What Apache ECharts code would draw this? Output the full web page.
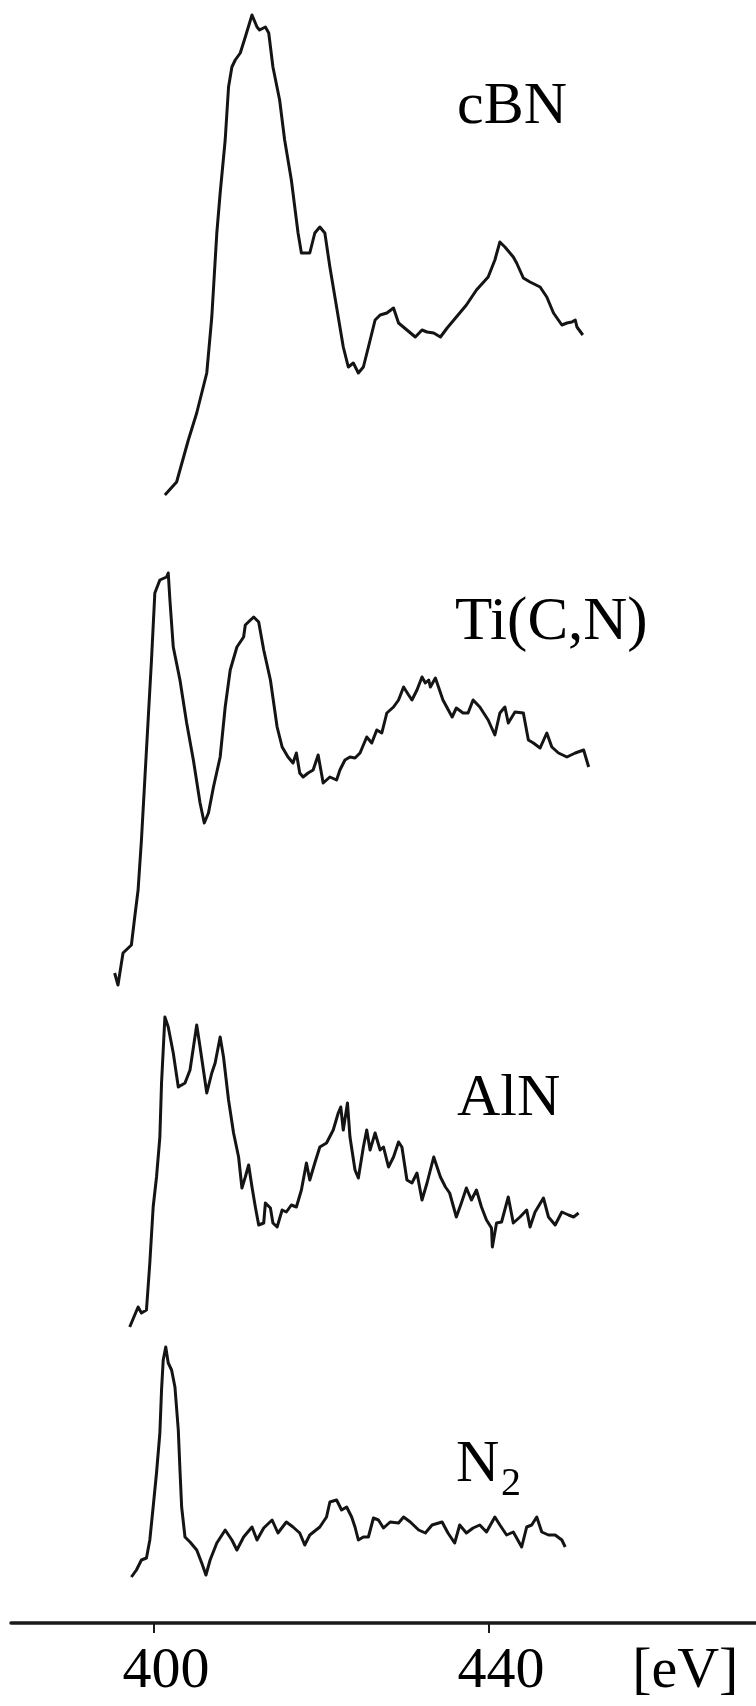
<!DOCTYPE html>
<html>
<head>
<meta charset="utf-8">
<script src="https://cdn.jsdelivr.net/npm/echarts@6/dist/echarts.min.js"></script>
<style>
html,body{margin:0;padding:0;background:#fff;}
#chart{width:756px;height:1706px;}
</style>
</head>
<body>
<div id="chart"></div>
<script>
// Energy-loss spectra, [energy eV, intensity a.u. (offset stack)]
const cBN = [
[401.3,112.8],[402.7,114.1],[404.1,118.3],[405.1,121.0],[406.3,125.0],[406.9,130.6],[407.5,139.0],
[407.9,143.0],[408.5,148.3],[408.9,153.6],[409.3,155.6],[409.7,156.3],[410.3,157.0],[410.9,158.6],
[411.7,160.8],[412.3,159.6],[412.6,159.3],[413.3,159.6],[413.7,159.0],[414.2,155.6],[415.0,152.3],
[415.6,148.3],[416.4,144.3],[417.2,139.0],[417.6,137.0],[418.6,137.0],[419.2,139.0],[419.8,139.6],
[420.4,139.0],[421.0,135.6],[421.8,131.6],[422.6,127.6],[423.2,125.6],[423.8,126.0],[424.4,125.0],
[425.0,125.6],[425.6,127.6],[426.4,130.3],[427.0,130.8],[427.8,131.0],[428.6,131.5],[429.2,130.0],
[430.2,129.3],[431.2,128.6],[432.0,129.3],[432.6,129.1],[433.4,129.0],[434.2,128.6],[435.0,129.5],
[436.1,130.6],[437.3,131.8],[438.5,133.3],[439.9,134.6],[440.7,136.3],[441.3,138.1],[441.9,137.6],
[442.9,136.6],[443.3,136.0],[444.1,134.5],[444.9,134.1],[446.1,133.6],[446.9,132.6],[447.7,131.0],
[448.7,129.8],[449.3,130.0],[449.9,130.1],[450.3,130.3],[450.5,129.6],[451.2,128.8]
];
const TiCN = [
[395.3,65.0],[395.7,63.8],[396.3,67.0],[397.3,67.8],[397.7,70.6],[398.1,73.3],[398.5,78.3],
[398.9,84.3],[399.3,90.3],[399.7,96.3],[400.1,103.0],[400.7,104.3],[401.5,104.6],[401.7,105.0],
[401.9,102.3],[402.3,97.6],[403.1,94.3],[403.9,90.0],[404.7,86.3],[405.5,82.0],[406.0,80.0],
[406.5,81.0],[407.1,83.6],[407.9,86.6],[408.5,91.6],[409.1,95.3],[409.9,97.6],[410.7,98.6],
[410.9,99.8],[411.9,100.6],[412.5,100.1],[413.1,97.3],[413.9,94.3],[414.7,89.6],[415.3,87.6],
[416.0,86.6],[416.6,86.0],[417.0,87.0],[417.4,85.0],[417.8,84.6],[418.4,85.0],[419.0,85.3],
[419.6,86.8],[420.2,84.0],[421.0,84.6],[421.8,84.3],[422.2,85.3],[422.8,86.3],[423.4,86.6],
[424.0,86.5],[424.6,87.0],[425.4,88.6],[426.0,88.0],[426.6,89.3],[427.2,89.0],[427.8,91.0],
[428.6,91.6],[429.2,92.3],[429.8,93.6],[430.4,92.8],[430.8,92.3],[431.4,93.3],[432.0,94.6],
[432.4,94.0],[432.8,94.3],[433.0,93.6],[433.6,94.5],[434.5,92.3],[435.6,90.6],[436.1,91.5],
[436.9,91.0],[437.5,91.0],[438.1,92.3],[438.9,91.6],[439.9,90.3],[440.7,88.8],[441.3,91.0],
[441.9,91.6],[442.3,90.0],[443.1,91.1],[444.1,91.0],[444.7,88.3],[445.3,88.0],[446.1,87.5],
[446.9,89.0],[447.5,87.6],[448.3,87.0],[449.3,86.6],[450.3,87.0],[451.3,87.3],[451.9,85.6]
];
const AlN = [
[397.1,29.6],[397.7,30.8],[398.1,31.6],[398.5,31.0],[399.1,31.3],[399.5,36.0],[399.9,41.6],
[400.3,44.6],[400.7,48.6],[400.9,54.0],[401.3,60.6],[401.7,59.6],[402.3,57.0],[402.9,53.6],
[403.7,54.0],[404.3,55.3],[405.1,59.8],[405.5,57.6],[406.3,53.0],[406.9,55.0],[407.3,56.0],
[407.9,58.6],[408.3,56.6],[408.9,52.3],[409.5,49.0],[410.1,46.6],[410.5,43.5],[410.9,44.6],
[411.3,45.8],[411.7,43.6],[412.1,41.6],[412.5,39.8],[413.1,40.0],[413.3,42.0],[413.9,41.5],
[414.2,40.0],[414.7,39.6],[415.3,41.3],[415.8,41.1],[416.4,41.8],[417.0,41.6],[417.6,43.3],
[418.2,46.0],[418.6,44.3],[419.2,46.0],[419.8,47.6],[420.6,48.0],[421.4,49.3],[422.0,51.0],
[422.3,51.6],[422.6,49.3],[423.1,52.0],[423.4,48.6],[424.0,45.3],[424.4,44.5],[425.0,47.6],
[425.4,49.3],[425.8,47.3],[426.4,49.0],[427.0,47.3],[427.4,47.6],[428.0,45.6],[428.6,46.6],
[429.2,48.1],[429.6,47.6],[430.2,44.3],[430.8,44.0],[431.4,45.0],[432.0,42.3],[432.6,44.0],
[433.4,46.6],[434.2,44.6],[434.8,43.6],[435.3,43.0],[436.1,40.6],[436.7,42.0],[437.3,43.5],
[437.9,42.3],[438.5,43.3],[439.1,41.6],[439.7,40.3],[440.3,39.5],[440.4,37.6],[440.9,40.0],
[441.5,40.1],[442.3,42.6],[442.9,40.0],[443.7,40.6],[444.5,41.3],[444.9,39.6],[445.5,41.1],
[446.5,42.5],[447.1,40.6],[447.9,39.8],[448.7,41.1],[449.5,40.8],[450.1,40.6],[450.7,41.0]
];
const N2 = [
[397.3,4.6],[397.9,5.3],[398.5,6.3],[399.1,6.5],[399.5,8.3],[399.9,11.6],[400.3,15.0],
[400.7,19.0],[400.9,23.3],[401.1,26.3],[401.4,27.6],[401.7,26.0],[402.1,25.3],[402.5,23.6],
[402.9,19.3],[403.1,15.3],[403.3,11.6],[403.7,8.6],[404.3,8.1],[405.1,7.3],[405.7,6.0],
[406.2,4.8],[406.7,6.3],[407.5,8.0],[408.5,9.3],[409.3,8.3],[409.9,7.3],[410.7,8.6],
[411.7,9.6],[412.3,8.3],[413.1,9.5],[414.1,10.3],[414.8,9.0],[415.8,10.1],[416.6,9.6],
[417.4,9.0],[418.0,7.8],[418.6,8.8],[419.8,9.6],[420.6,10.6],[421.0,12.1],[421.8,12.3],
[422.4,11.3],[423.0,11.6],[423.6,10.6],[424.0,9.6],[424.4,8.3],[425.0,8.6],[425.6,8.6],
[426.2,10.5],[426.8,10.3],[427.4,9.5],[428.2,10.1],[429.2,10.0],[429.8,10.6],[430.6,10.1],
[431.6,9.3],[432.4,9.0],[433.2,9.8],[434.4,10.1],[435.1,9.0],[435.9,8.0],[436.5,9.8],
[437.3,9.0],[438.1,9.5],[438.9,9.8],[439.7,9.1],[440.7,10.6],[441.3,9.8],[442.1,8.8],
[442.9,9.1],[443.9,7.6],[444.5,9.6],[445.1,9.8],[445.7,10.6],[446.3,9.1],[447.1,8.8],
[447.9,8.8],[448.7,8.3],[449.1,7.6]
];
const seriesNames = ['cBN', 'Ti(C,N)', 'AlN', 'N2'];
const tickValues = [400, 440];
const unitLabel = '[eV]';
const unitLabelAt = 462;

const chart = echarts.init(document.getElementById('chart'), null, {renderer: 'canvas'});
const FONT = '"Liberation Serif", "Times New Roman", serif';
const lineStyle = {color: '#141414', width: 3, join: 'round'};
const mk = (name, data) => ({
  name, type: 'line', data, showSymbol: false, symbol: 'none',
  lineStyle, silent: true, animation: false
});

chart.setOption({
  animation: false,
  backgroundColor: '#ffffff',
  grid: {left: 11, right: 0, top: 3, bottom: 83, containLabel: false},
  xAxis: {
    type: 'value', min: 382.925, max: 471.88,
    axisLine: {show: true, onZero: false, lineStyle: {color: '#1a1a1a', width: 3.5}},
    axisTick: {show: true, customValues: tickValues, length: 10, lineStyle: {color: '#1a1a1a', width: 2}},
    axisLabel: {
      show: true, customValues: tickValues.concat([unitLabelAt]),
      formatter: v => (v > 450 ? unitLabel : String(v)),
      fontFamily: FONT, fontSize: 58, color: '#000', margin: 20,
      padding: [0, 0, 0, 24]
    },
    splitLine: {show: false}
  },
  yAxis: {type: 'value', min: 0, max: 162, show: false, splitLine: {show: false}},
  series: [mk(seriesNames[0], cBN), mk(seriesNames[1], TiCN), mk(seriesNames[2], AlN), mk(seriesNames[3], N2)],
  graphic: [
    {type: 'text', left: 457, top: 77, style: {text: seriesNames[0], font: '60px ' + FONT, fill: '#000'}},
    {type: 'text', left: 455, top: 592, style: {text: seriesNames[1], font: '61px ' + FONT, fill: '#000'}},
    {type: 'text', left: 457, top: 1069, style: {text: seriesNames[2], font: '60px ' + FONT, fill: '#000'}},
    {type: 'text', left: 456, top: 1435, style: {text: 'N', font: '60px ' + FONT, fill: '#000'}},
    {type: 'text', left: 501, top: 1464, style: {text: '2', font: '40px ' + FONT, fill: '#000'}}
  ]
});
</script>
</body>
</html>
